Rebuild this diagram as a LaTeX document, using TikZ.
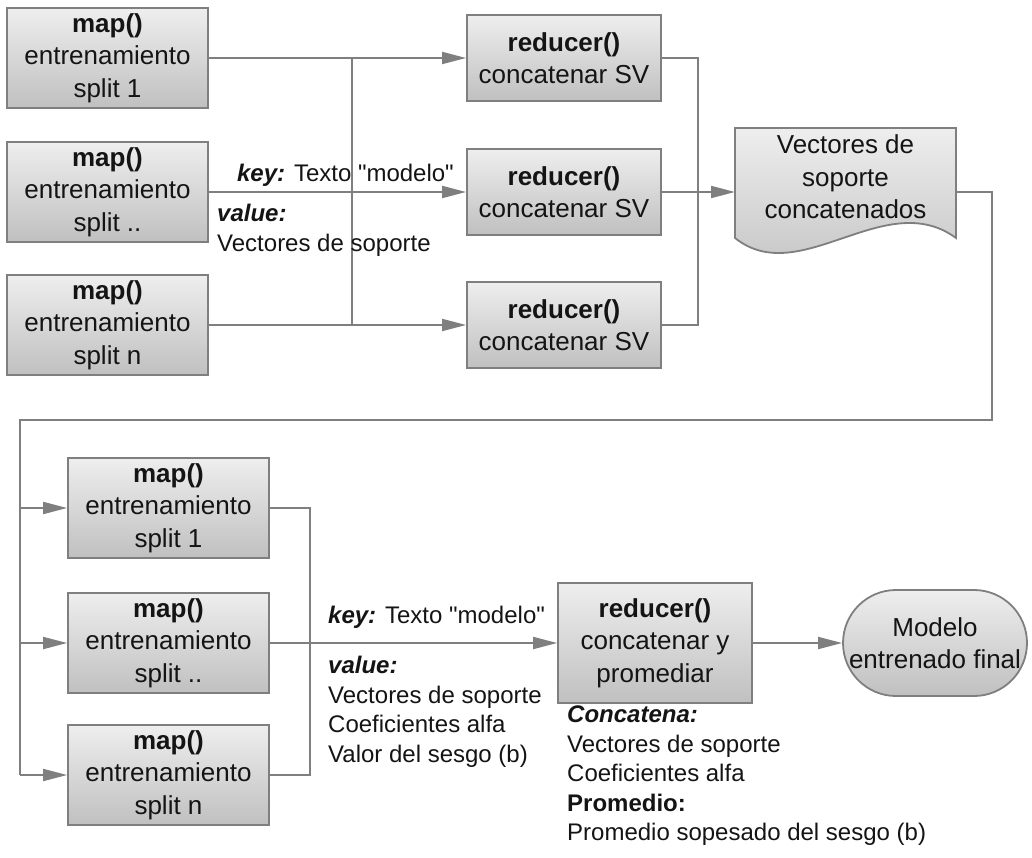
\documentclass[tikz,border=0pt]{standalone}
\usepackage{fontspec}
\setmainfont{Liberation Sans}
\usetikzlibrary{arrows.meta,calc}

\definecolor{lineg}{HTML}{7F7F7F}
\definecolor{boxtop}{HTML}{EEEEEE}
\definecolor{boxbot}{HTML}{C0C0C0}
\definecolor{ink}{HTML}{141414}
\newcommand\boxfont{\fontsize{26}{32.5}\selectfont}
\newcommand\labfont{\fontsize{24}{29.5}\selectfont}
\newcommand\kw[1]{\textbf{\textit{#1}}}
% straight double quote, set as a glyph so the TeX ligature mapping leaves it alone
\newcommand\sq{\XeTeXglyph\XeTeXcharglyph"22\relax}

\begin{document}
\begin{tikzpicture}[x=1pt,y=-1pt,
  every node/.style={text=ink},
  procbox/.style={draw=lineg, line width=1.8pt, top color=boxtop, bottom color=boxbot,
                  align=center, font=\boxfont, inner sep=0pt},
  mapbox/.style={procbox, minimum width=201pt, minimum height=100pt},
  redbox/.style={procbox, minimum width=194pt, minimum height=86pt},
  conn/.style={draw=lineg, line width=1.8pt},
  arr/.style={conn, -{Triangle[length=24pt,width=12pt]}},
  lab/.style={font=\labfont, align=left, inner sep=0pt},
]
\useasboundingbox (0,0) rectangle (1032,858);

% ---------- first stage: map / reduce of the splits ----------
\node[mapbox] (m1) at (107.5,58)  {\textbf{map()}\\entrenamiento\\split 1};
\node[mapbox] (m2) at (107.5,192) {\textbf{map()}\\entrenamiento\\split ..};
\node[mapbox] (m3) at (107.5,325) {\textbf{map()}\\entrenamiento\\split n};

\node[redbox] (r1) at (564,58)  {\textbf{reducer()}\\concatenar SV};
\node[redbox] (r2) at (564,192) {\textbf{reducer()}\\concatenar SV};
\node[redbox] (r3) at (564,325) {\textbf{reducer()}\\concatenar SV};

% document holding the concatenated support vectors
\path[draw=lineg, line width=1.8pt, top color=boxtop, bottom color=boxbot]
  (735,128) -- (956,128) -- (956,238)
  .. controls (885,186) and (800,290) .. (735,238) -- cycle;
\node[align=center, font=\boxfont, inner sep=0pt] (doc) at (845.5,177)
  {Vectores de\\soporte\\concatenados};
\coordinate (docin)  at (735,192);
\coordinate (docout) at (956,192);

% connectors of the first stage
\draw[arr] (m1.east) -- (r1.west);
\draw[arr] (m2.east) -- (r2.west);
\draw[arr] (m3.east) -- (r3.west);
\coordinate (jt) at (352,58);
\coordinate (jb) at (352,325);
\draw[conn] (jt) -- (jb);
\coordinate (rj) at (698,192);
\draw[conn] (r1.east) -| (rj) |- (r3.east);
\draw[arr] (r2.east) -- (docin);

\node[lab, anchor=east] (k1) at (454,175) {\kw{key:} Texto \sq modelo\sq};
\node[lab, anchor=north west] (v1) at (217,204) {\kw{value:}\\Vectores de soporte};

% ---------- second stage ----------
\node[mapbox] (lm1) at (168.5,508) {\textbf{map()}\\entrenamiento\\split 1};
\node[mapbox] (lm2) at (168.5,643) {\textbf{map()}\\entrenamiento\\split ..};
\node[mapbox] (lm3) at (168.5,775) {\textbf{map()}\\entrenamiento\\split n};

\node[procbox, minimum width=194pt, minimum height=120pt] (rf) at (655,643)
  {\textbf{reducer()}\\concatenar y\\promediar};
\node[procbox, rounded corners=53pt, minimum width=184pt, minimum height=106pt] (fin)
  at (935,643) {Modelo\\entrenado final};

% loop back from the document to the second map stage
\coordinate (loopR) at (992,420);
\coordinate (loopL) at (20,420);
\draw[conn] (docout) -| (loopR) -- (loopL) -- (loopL |- lm3.west);
\draw[arr] (loopL |- lm1.west) -- (lm1.west);
\draw[arr] (loopL |- lm2.west) -- (lm2.west);
\draw[arr] (loopL |- lm3.west) -- (lm3.west);

\coordinate (mj) at (310,643);
\draw[conn] (lm1.east) -| (mj) |- (lm3.east);
\draw[arr] (lm2.east) -- (rf.west);
\draw[arr] (rf.east) -- (fin.west);

\node[lab, anchor=west] (k2) at (328,617) {\kw{key:} Texto \sq modelo\sq};
\node[lab, anchor=north west] (v2) at (328,656)
  {\kw{value:}\\Vectores de soporte\\Coeficientes alfa\\Valor del sesgo (b)};
\node[lab, anchor=north west] (c2) at (567,706)
  {\kw{Concatena:}\\Vectores de soporte\\Coeficientes alfa\\\textbf{Promedio:}\\Promedio sopesado del sesgo (b)};
\end{tikzpicture}
\end{document}
